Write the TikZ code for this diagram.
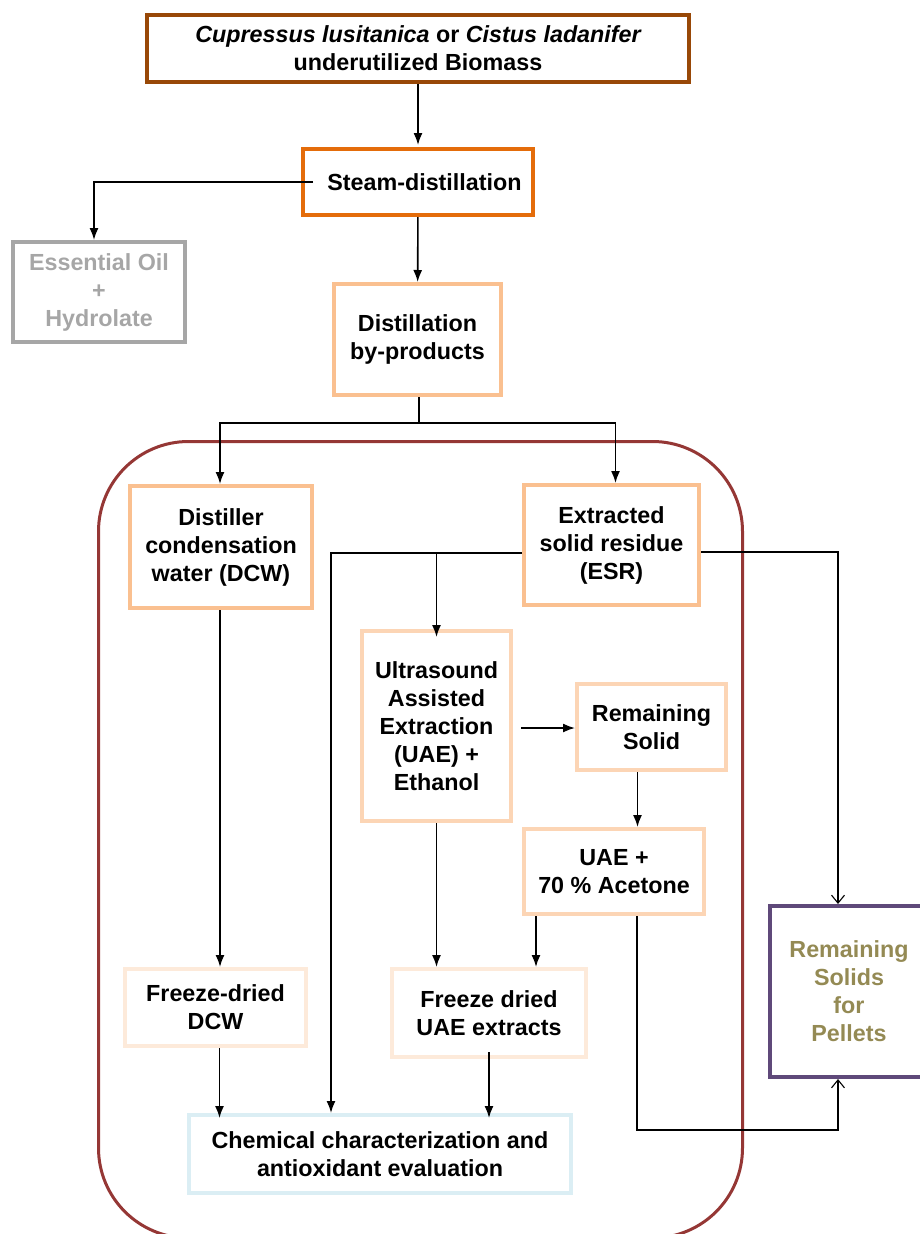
\documentclass[tikz,border=0pt]{standalone}
\usepackage{fontspec}
\setmainfont{Liberation Sans}
\usepackage{tikz}
\usetikzlibrary{positioning, calc}
\usetikzlibrary{arrows.meta}
\definecolor{cbrown}{RGB}{152,72,7}
\definecolor{corange}{RGB}{228,108,10}
\definecolor{cgray}{RGB}{166,166,166}
\definecolor{cpeach}{RGB}{250,192,144}
\definecolor{clight}{RGB}{252,213,181}
\definecolor{cpale}{RGB}{253,234,218}
\definecolor{cblue}{RGB}{219,238,244}
\definecolor{cpurple}{RGB}{95,73,122}
\definecolor{colive}{RGB}{148,138,84}
\definecolor{cframe}{RGB}{149,55,53}
\tikzset{
    box/.style = {draw, line width=4pt, align=center,
        font=\fontsize{23.3}{28}\selectfont\bfseries},
    arr/.style = {line width=1.6pt, -{Latex[length=12pt,width=9pt]}},
    openarr/.style = {line width=1.1pt, -{Straight Barb[length=8pt,width=13pt]}}
}

\begin{document}
\begin{tikzpicture}[x=1pt, y=-1pt]
                \useasboundingbox (0,0) rectangle (919,1234);
                \draw[cframe, line width=3pt, rounded corners=90pt] (98.5,441.5) rectangle (742.5,1238);
                \node[box, draw=cbrown, minimum width=542pt, minimum height=67pt] (biomass) at (418,48.5) {{\itshape Cupressus lusitanica} or {\itshape Cistus ladanifer}\\underutilized Biomass};
                \node[box, draw=corange, minimum width=230pt, minimum height=66pt] (steam) at (418,182) {\ \ Steam-distillation};
                \node[box, draw=cgray, text=cgray, minimum width=172pt, minimum height=100pt] (oil) at (99,292) {Essential Oil\\+\\Hydrolate};
                \node[box, draw=cpeach, minimum width=167pt, minimum height=111pt] (byprod) at (417.5,339.5) {Distillation\\by-products};
                \node[box, draw=cpeach, minimum width=182pt, minimum height=122pt] (dcw) at (221,547) {Distiller\\condensation\\water (DCW)};
                \node[box, draw=cpeach, minimum width=175pt, minimum height=120pt] (esr) at (611.5,545) {Extracted\\solid residue\\(ESR)};
                \node[box, draw=clight, minimum width=149pt, minimum height=190pt] (uae) at (436.5,726) {Ultrasound\\Assisted\\Extraction\\(UAE) +\\Ethanol};
                \node[box, draw=clight, minimum width=149pt, minimum height=86pt] (rsolid) at (651.5,727) {Remaining\\Solid};
                \node[box, draw=clight, minimum width=180pt, minimum height=85pt] (acet) at (614,871.5) {UAE +\\70 \% Acetone};
                \node[box, draw=cpale, minimum width=181pt, minimum height=77pt] (fddcw) at (215.5,1007.5) {Freeze-dried\\DCW};
                \node[box, draw=cpale, minimum width=194pt, minimum height=88pt] (fduae) at (489,1013) {Freeze dried\\UAE extracts};
                \node[box, draw=cblue, minimum width=382pt, minimum height=78pt] (chem) at (380,1154) {Chemical characterization and\\antioxidant evaluation};
                \node[box, draw=cpurple, text=colive, minimum width=158pt, minimum height=171pt] (pellets) at (849,991.5) {Remaining\\Solids\\for\\Pellets};
                \coordinate (split) at (419,423);
                \coordinate (esrl) at ([yshift=-8pt]esr.west);
                \draw[arr] (biomass) -- ([yshift=2pt]steam.north);
                \draw[arr] ([xshift=12pt]steam.west) -| ([xshift=-5pt]oil.north);
                \draw[arr] (steam) -- (byprod);
                \draw[line width=1.6pt] (byprod.south -| split) -- (split);
                \draw[arr] (split) -| ([xshift=-1pt]dcw.north);
                \draw[arr] (split) -| ([xshift=4pt]esr.north);
                \draw[arr] (esrl) -| ([xshift=-49pt]chem.north);
                \draw[arr] (uae.north |- esrl) -- ([yshift=-8pt]uae.north);
                \draw[openarr] ([yshift=-7pt]esr.east) -| ([xshift=-11pt]pellets.north);
                \draw[arr] ([xshift=8pt,yshift=-2pt]uae.east) -- ([yshift=-1pt]rsolid.west);
                \draw[arr] ([xshift=-14pt]rsolid.south) -- ([xshift=-14pt]rsolid.south |- acet.north);
                \draw[arr] (uae.south) -- (uae.south |- fduae.north);
                \draw[arr] ([xshift=-78pt]acet.south) -- ([xshift=-78pt]acet.south |- fduae.north);
                \draw[openarr] ([xshift=23pt]acet.south) -- ++(0,214) -| ([xshift=-11pt]pellets.south);
                \draw[arr] ([xshift=-1pt]dcw.south) -- ([xshift=-1pt]dcw.south |- fddcw.north);
                \draw[arr] ([xshift=4pt]fddcw.south) -- ([xshift=4pt,yshift=-5pt]fddcw.south |- chem.north);
                \draw[arr] ([yshift=7pt]fduae.south) -- ([yshift=-5pt]fduae.south |- chem.north);
\end{tikzpicture}
\end{document}
